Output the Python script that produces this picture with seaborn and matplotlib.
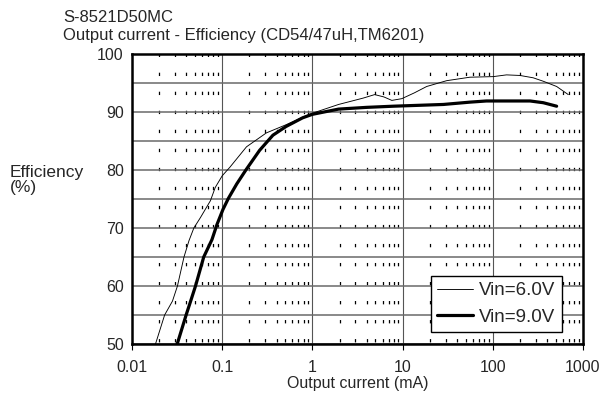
import matplotlib
matplotlib.use("Agg")
import matplotlib.pyplot as plt
import matplotlib.ticker as mticker
from matplotlib.lines import Line2D
import numpy as np
import pandas as pd
import seaborn as sns

# ---- data ----
series_labels = ["Vin=6.0V", "Vin=9.0V"]

i_6v = [0.0178, 0.023, 0.0281, 0.0319, 0.0377, 0.0428, 0.0485, 0.0574, 0.074, 0.0838,
        0.1, 0.122, 0.186, 0.309, 0.51, 0.92, 1.95, 2.6, 3.66, 4.9, 6.2, 7.6, 9.8,
        13.5, 18.5, 30.8, 55.8, 101, 142, 200, 280, 363, 510, 687]
eff_6v = [49.5, 55.0, 57.4, 60.0, 65.0, 67.8, 70.0, 71.8, 74.7, 77.0,
          79.0, 80.5, 84.0, 86.4, 87.8, 89.6, 91.3, 91.8, 92.4, 93.0, 92.6, 92.0, 92.3,
          93.3, 94.4, 95.4, 96.0, 96.1, 96.4, 96.3, 95.9, 95.3, 94.4, 93.0]

i_9v = [0.031, 0.040, 0.0447, 0.0506, 0.0624, 0.077, 0.0875, 0.102, 0.117, 0.145,
        0.183, 0.26, 0.365, 0.51, 0.78, 1.0, 1.95, 4.0, 7.9, 28.3, 55.8, 85,
        259, 363, 510]
eff_9v = [49.5, 55.1, 57.4, 60.0, 65.0, 68.0, 70.6, 73.2, 75.1, 77.6,
          80.0, 83.4, 86.0, 87.5, 89.0, 89.6, 90.5, 90.8, 91.0, 91.3, 91.7, 91.9,
          91.9, 91.6, 91.0]

x_ticks = [0.01, 0.1, 1, 10, 100, 1000]
x_tick_labels = ["0.01", "0.1", "1", "10", "100", "1000"]
y_ticks = [50, 60, 70, 80, 90, 100]
y_minor = [55, 65, 75, 85, 95]

title1 = "S-8521D50MC"
title2 = "Output current - Efficiency (CD54/47uH,TM6201)"

df = pd.concat([
    pd.DataFrame({"I": i_6v, "Eff": eff_6v, "series": series_labels[0]}),
    pd.DataFrame({"I": i_9v, "Eff": eff_9v, "series": series_labels[1]}),
], ignore_index=True)

# ---- style ----
sns.set_style("white")
plt.rcParams["font.family"] = ["Liberation Sans", "DejaVu Sans"]
plt.rcParams["lines.scale_dashes"] = False

fig = plt.figure(figsize=(6.03, 3.96), dpi=100)
ax = fig.add_axes([132 / 603, 1 - 344 / 396, (583 - 132) / 603, (344 - 54) / 396])

line_widths = [0.65, 2.3]
sns.lineplot(data=df, x="I", y="Eff", hue="series", size="series",
             palette=["black", "black"], sizes=line_widths,
             estimator=None, sort=False, ax=ax, legend=False)

ax.set_xscale("log")
ax.set_xlim(0.01, 1000)
ax.set_ylim(50, 100)

ax.set_xticks(x_ticks)
ax.set_xticklabels(x_tick_labels)
ax.xaxis.set_minor_locator(mticker.LogLocator(base=10, subs=np.arange(2, 10)))
ax.xaxis.set_minor_formatter(mticker.NullFormatter())
ax.set_yticks(y_ticks)
ax.set_yticklabels([str(v) for v in y_ticks])
ax.set_yticks(y_minor, minor=True)

ax.tick_params(axis="x", which="major", direction="out", length=4, width=0.8,
               color="black", pad=7.5, labelsize=11.5, bottom=True)
ax.tick_params(axis="x", which="minor", length=0)
ax.tick_params(axis="y", which="both", length=0, pad=6, labelsize=11.5)

# grid
ax.grid(False)
ax.grid(True, which="major", axis="x", color="#555555", linewidth=0.8)
ax.grid(True, which="minor", axis="x", color="black", linewidth=0.9,
        linestyle=(12.2, (2.4, 11.3)))
ax.grid(True, which="both", axis="y", color="#6a6a6a", linewidth=1.1)
ax.set_axisbelow(True)

for s in ax.spines.values():
    s.set_visible(True)
    s.set_color("black")
    s.set_linewidth(1.8)

ax.set_xlabel("Output current (mA)", fontsize=11.5)
ax.xaxis.set_label_coords(0.5, -0.112)
ax.set_ylabel("")

leg_handles = [Line2D([], [], color="black", linewidth=lw) for lw in line_widths]
leg = ax.legend(leg_handles, series_labels, loc="lower right",
                bbox_to_anchor=(0.953, 0.041), bbox_transform=ax.transAxes,
                borderaxespad=0, fancybox=False, framealpha=1, edgecolor="black",
                fontsize=13.5, handlelength=1.9, handletextpad=0.35,
                labelspacing=0.5, borderpad=0.33)
leg.get_frame().set_linewidth(1.0)

fig.text(63 / 603, 1 - 22 / 396, title1, ha="left", va="baseline", fontsize=12)
fig.text(63 / 603, 1 - 40 / 396, title2, ha="left", va="baseline", fontsize=12)
fig.text(10 / 603, 1 - 165 / 396, "Efficiency\n(%)", ha="left", va="top",
         fontsize=12.5, linespacing=1.0)

fig.savefig("out.png", dpi=100)
